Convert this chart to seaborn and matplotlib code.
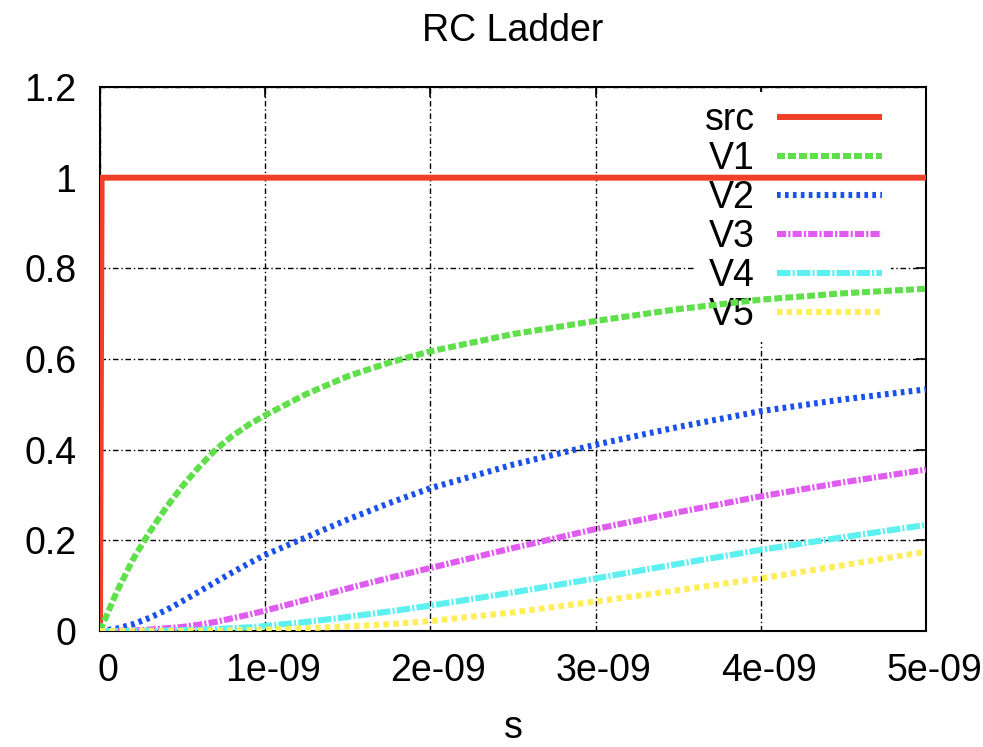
import matplotlib
matplotlib.use("Agg")
import matplotlib.pyplot as plt
import matplotlib.transforms as mtransforms
import seaborn as sns

# ---- data ----
t = [0.0, 0.1e-9, 0.2e-9, 0.3e-9, 0.4e-9, 0.5e-9, 0.6e-9, 0.7e-9, 0.8e-9, 0.9e-9,
     1.0e-9, 1.25e-9, 1.5e-9, 1.75e-9, 2.0e-9, 2.5e-9, 3.0e-9, 3.5e-9, 4.0e-9,
     4.5e-9, 5.0e-9]
src_t = [0.0, 0.01e-9, 5.0e-9]
src_v = [0.0, 1.0, 1.0]
v1 = [0.0, 0.085, 0.158, 0.218, 0.272, 0.320, 0.362, 0.400, 0.430, 0.455,
      0.476, 0.523, 0.562, 0.592, 0.617, 0.655, 0.684, 0.710, 0.731, 0.745, 0.755]
v2 = [0.0, 0.005, 0.015, 0.029, 0.046, 0.066, 0.087, 0.108, 0.129, 0.149,
      0.168, 0.207, 0.246, 0.282, 0.315, 0.367, 0.411, 0.450, 0.485, 0.511, 0.533]
v3 = [0.0, 0.0003, 0.001, 0.003, 0.006, 0.009, 0.014, 0.020, 0.028, 0.036,
      0.045, 0.069, 0.094, 0.117, 0.139, 0.183, 0.225, 0.262, 0.297, 0.328, 0.356]
v4 = [0.0, 0.0, 0.0, 0.0003, 0.001, 0.002, 0.003, 0.004, 0.006, 0.008,
      0.011, 0.020, 0.031, 0.043, 0.056, 0.085, 0.116, 0.148, 0.179, 0.207, 0.234]
v5 = [0.0, 0.0, 0.0, 0.0, 0.0001, 0.0002, 0.0005, 0.0008, 0.0013, 0.002,
      0.003, 0.006, 0.010, 0.015, 0.022, 0.041, 0.065, 0.090, 0.116, 0.145, 0.175]

labels = ["src", "V1", "V2", "V3", "V4", "V5"]
xticks = [0, 1e-9, 2e-9, 3e-9, 4e-9, 5e-9]
xtick_labels = ["0", "1e-09", "2e-09", "3e-09", "4e-09", "5e-09"]
yticks = [0, 0.2, 0.4, 0.6, 0.8, 1.0, 1.2]
ytick_labels = ["0", "0.2", "0.4", "0.6", "0.8", "1", "1.2"]
title = "RC Ladder"
xlabel = "s"

# ---- style ----
sns.set_theme(style="white")
plt.rcParams["font.family"] = ["Liberation Sans", "DejaVu Sans"]
plt.rcParams["text.color"] = "black"
plt.rcParams["axes.labelcolor"] = "black"
plt.rcParams["xtick.color"] = "black"
plt.rcParams["ytick.color"] = "black"
FS = 27

colors = ["#F0402A", "#5FE04A", "#1A50EC", "#E05CF0", "#5CF0F0", "#FFEE5A"]
dashes = [None, (1.3, 0.5), (0.6, 0.7), (1.5, 0.35, 0.35, 0.35), (2.2, 0.35, 0.35, 0.35), (0.9, 0.7)]
widths = [4.3, 4.4, 4.4, 4.4, 4.4, 4.4]

fig = plt.figure(figsize=(9.83, 7.47), dpi=100)
fig.subplots_adjust(left=0.1017, right=0.942, bottom=0.1553, top=0.8835)
ax = fig.add_subplot(111)
ax.set_axisbelow(True)

series = [(src_t, src_v), (t, v1), (t, v2), (t, v3), (t, v4), (t, v5)]
for (xs, ys), lab, c, d, w in zip(series, labels, colors, dashes, widths):
    sns.lineplot(x=xs, y=ys, color=c, lw=w, label=lab, ax=ax, sort=False,
                 estimator=None, zorder=3)
    line = ax.lines[-1]
    if d is not None:
        line.set_dashes(d)
    line.set_solid_capstyle("butt")
    line.set_dash_capstyle("butt")
    line.set_solid_joinstyle("round")

ax.set_xlim(0, 5e-9)
ax.set_ylim(0, 1.2)
ax.set_xticks(xticks)
ax.set_xticklabels(xtick_labels)
ax.set_yticks(yticks)
ax.set_yticklabels(ytick_labels)
ax.tick_params(axis="both", which="major", direction="in", length=7, width=1.2,
               labelsize=FS, top=True, right=True, colors="black")
ax.tick_params(axis="x", pad=16)
ax.tick_params(axis="y", pad=17)
offset = mtransforms.ScaledTranslation(8 / 100, 0, fig.dpi_scale_trans)
for lbl in ax.get_xticklabels():
    lbl.set_transform(lbl.get_transform() + offset)

ax.grid(True, color="black", linestyle=(0, (4, 2, 1, 2)), linewidth=1.0)
for s in ax.spines.values():
    s.set_color("black")
    s.set_linewidth(1.5)

ax.set_title(title, fontsize=FS, pad=33, color="black")
ax.set_xlabel(xlabel, fontsize=FS, labelpad=15, color="black")
ax.set_ylabel("")

leg = ax.legend(loc="upper right", bbox_to_anchor=(0.958, 0.99), fontsize=FS,
                frameon=True, markerfirst=False, handlelength=2.8,
                handletextpad=0.6, labelspacing=0.08, borderpad=0.25,
                borderaxespad=0.0, fancybox=False)
leg.get_frame().set_edgecolor("none")
leg.get_frame().set_facecolor("white")
leg.get_frame().set_alpha(1.0)
leg.set_zorder(2)
for txt in leg.get_texts():
    txt.set_ha("right")
    txt.set_color("black")
leg._legend_box.align = "right"

fig.savefig("out.png", dpi=100)
